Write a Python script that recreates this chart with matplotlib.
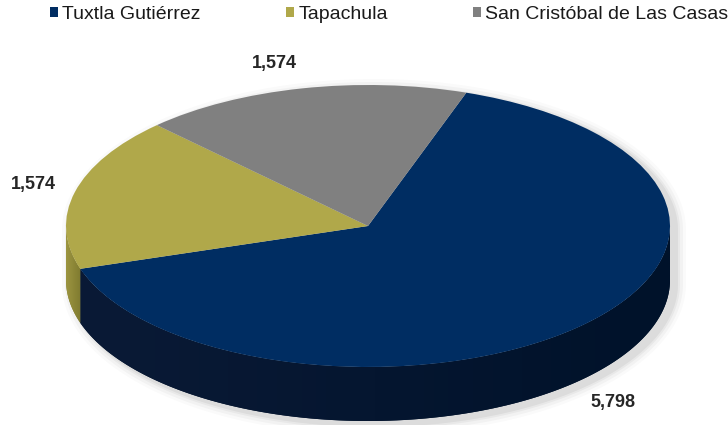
import numpy as np
import matplotlib
matplotlib.use("Agg")
import matplotlib.pyplot as plt
from matplotlib.patches import Polygon, Patch
from matplotlib.transforms import Affine2D

plt.rcParams['font.family'] = ['Liberation Sans', 'DejaVu Sans']

categories = ["Tuxtla Gutiérrez", "Tapachula", "San Cristóbal de Las Casas"]
values = [5798, 1574, 1574]
value_labels = ["5,798", "1,574", "1,574"]

top_colors = ["#002d62", "#b0a84a", "#808080"]
side_dark = ["#00122a", "#7f7a30", "#5a5a5a"]
side_light = ["#0a1a36", "#9c9540", "#707070"]

W, H = 728, 425
fig = plt.figure(figsize=(W / 100, H / 100), dpi=100)
ax = fig.add_axes([0, 0, 1, 1])

cx, cy = 368, 425 - 226
a, b = 302, 141
depth = 54
start = 71

wedges, _ = ax.pie(values, colors=top_colors, startangle=start, counterclock=False,
                   radius=a, center=(cx, cy), wedgeprops=dict(linewidth=0))
flat = Affine2D().translate(-cx, -cy).scale(1, b / a).translate(cx, cy)
for w in wedges:
    w.set_transform(flat + ax.transData)
    w.set_zorder(3)

ax.set_aspect('auto')
ax.set_xlim(0, W)
ax.set_ylim(0, H)
ax.axis('off')

# shadow (soft)
tt = np.linspace(0, 2 * np.pi, 300)
for grow, al in [(10, 0.02), (7, 0.03), (4, 0.04), (2, 0.05)]:
    xs = cx + 6 + (a + grow) * np.cos(tt)
    ys = cy - 4 + (b + grow) * np.sin(tt)
    ys = np.where(np.sin(tt) < 0, ys - depth, ys)
    ax.add_patch(Polygon(np.column_stack([xs, ys]), closed=True,
                         facecolor="black", alpha=al, edgecolor="none", zorder=0))

# side faces from data angles
fr = np.array(values) / np.sum(values)
theta2 = start - 360 * np.cumsum(fr)
theta1 = np.concatenate([[start], theta2[:-1]])
for i in range(len(values)):
    hi, lo = theta1[i], theta2[i]
    for shift in (0, 360, 720, -360):
        l, h = lo + shift, hi + shift
        s, e = max(l, 180), min(h, 360)
        if e > s:
            t = np.radians(np.linspace(s, e, 120))
            xt = cx + a * np.cos(t)
            yt = cy + b * np.sin(t)
            pts = np.column_stack([np.concatenate([xt, xt[::-1]]),
                                   np.concatenate([yt, (yt - depth)[::-1]])])
            poly = Polygon(pts, closed=True, facecolor=side_dark[i],
                           edgecolor="none", zorder=1)
            ax.add_patch(poly)
            c1 = np.array(matplotlib.colors.to_rgb(side_light[i]))
            c2 = np.array(matplotlib.colors.to_rgb(side_dark[i]))
            g = np.linspace(0, 1, 256)[None, :, None]
            img = c1 * (1 - g) + c2 * g
            im = ax.imshow(img, extent=[pts[:, 0].min(), pts[:, 0].max(),
                                        pts[:, 1].min(), pts[:, 1].max()],
                           aspect='auto', zorder=2, interpolation='bilinear')
            im.set_clip_path(poly)

ax.set_xlim(0, W)
ax.set_ylim(0, H)

# data labels
label_pos = [(613, 402), (33, 184), (274, 63)]
for (x, y), txt in zip(label_pos, value_labels):
    ax.text(x, H - y, txt, ha='center', va='center', fontsize=13,
            fontweight='bold', color='#262626', zorder=5)

handles = [Patch(facecolor=c, edgecolor='none') for c in top_colors]
fig.legend(handles, categories, loc='upper left', bbox_to_anchor=(50 / W, 1 - 6 / H),
           ncol=3, frameon=False, fontsize=14, handlelength=0.42, handleheight=0.42,
           handletextpad=0.2, columnspacing=4.4, borderpad=0, borderaxespad=0,
           labelcolor='#1a1a1a')

fig.savefig("out.png", dpi=100)
